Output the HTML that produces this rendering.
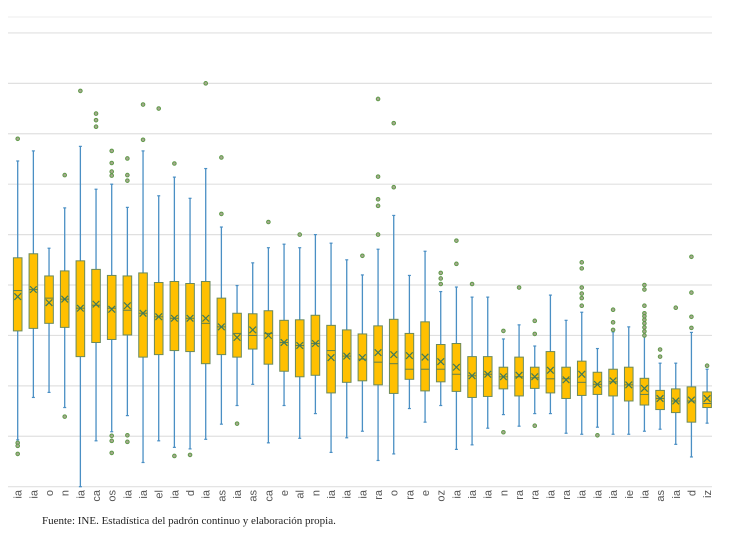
<!DOCTYPE html>
<html><head><meta charset="utf-8"><style>
body{margin:0;background:#fff;width:731px;height:542px;overflow:hidden}
svg{display:block}
</style></head><body>
<svg id="chart" width="731" height="542">
<defs><clipPath id="lblclip"><rect x="0" y="489" width="731" height="14"/></clipPath></defs>
<g id="grid"></g>
<g id="boxes"></g>
<g id="labels" clip-path="url(#lblclip)"></g>
<text x="42" y="524" font-family="Liberation Serif, serif" font-size="11" fill="#222">Fuente: INE. Estadística del padrón continuo y elaboración propia.</text>
</svg>
<script>
const categories=["ia","ia","o","n","ia","ca","os","ia","ia","el","ia","d","ia","as","ia","as","ca","e","al","n","ia","ia","ia","ra","o","ra","e","oz","ia","ia","ia","n","ra","ra","ia","ra","ia","ia","ia","ie","ia","as","ia","d","iz"];
const whiskerLow=[0.93,1.77,1.87,1.57,0,0.91,1.09,1.41,0.48,0.91,0.78,0.75,0.94,1.24,1.61,2.03,0.87,1.61,0.96,1.45,0.68,0.97,1.10,0.52,0.65,1.55,1.28,1.61,0.74,0.83,1.16,1.43,1.20,1.45,1.45,1.06,1.04,1.18,1.04,1.04,1.10,1.14,0.84,0.59,1.26];
const q1=[3.09,3.14,3.24,3.16,2.58,2.86,2.92,3.01,2.57,2.62,2.70,2.68,2.44,2.62,2.57,2.73,2.43,2.29,2.18,2.21,1.86,2.07,2.10,2.02,1.85,2.13,1.90,2.08,1.89,1.77,1.79,1.94,1.80,1.95,1.86,1.75,1.81,1.83,1.80,1.70,1.62,1.53,1.47,1.28,1.57];
const median=[3.89,3.91,3.74,3.72,3.54,3.60,3.54,3.50,3.44,3.37,3.34,3.34,3.24,3.17,3.04,3.00,3.04,2.86,2.80,2.84,2.70,2.59,2.53,2.47,2.44,2.33,2.33,2.33,2.23,2.20,2.23,2.18,2.18,2.16,2.14,2.14,2.07,2.03,2.08,2.02,1.83,1.75,1.70,1.70,1.65];
const q3=[4.54,4.62,4.18,4.28,4.48,4.31,4.19,4.18,4.24,4.05,4.07,4.03,4.07,3.74,3.44,3.43,3.49,3.30,3.31,3.40,3.20,3.11,3.03,3.19,3.32,3.04,3.27,2.82,2.84,2.58,2.58,2.37,2.57,2.37,2.68,2.37,2.49,2.27,2.33,2.37,2.15,1.91,1.94,1.98,1.88];
const whiskerHigh=[6.46,6.66,4.73,5.53,6.75,5.90,6.00,5.54,6.66,5.77,6.14,5.72,6.31,5.15,3.99,4.44,4.74,4.81,4.74,5.00,4.83,4.50,4.20,4.71,5.38,4.19,4.67,3.87,3.96,3.76,3.76,2.93,3.21,2.79,3.80,3.30,3.46,2.74,3.07,3.17,3.46,2.45,2.45,3.06,2.33];
const means=[3.77,3.91,3.65,3.72,3.54,3.62,3.52,3.59,3.44,3.37,3.34,3.34,3.34,3.17,2.96,3.11,3.00,2.86,2.80,2.84,2.56,2.59,2.56,2.66,2.62,2.60,2.57,2.48,2.37,2.20,2.23,2.18,2.21,2.18,2.31,2.12,2.23,2.03,2.10,2.02,1.95,1.75,1.70,1.72,1.75];
const outliers=[[6.90,0.87,0.81,0.65],[],[],[6.18,1.39],[7.85],[7.40,7.27,7.14],[6.66,6.42,6.25,6.17,1.01,0.91,0.67],[6.51,6.18,6.07,1.02,0.89],[7.58,6.88],[7.50],[6.41,0.61],[0.63],[8.0],[6.53,5.41],[1.25],[],[5.25],[],[5.00],[],[],[],[4.58],[7.69,6.15,5.70,5.57,5.00],[7.21,5.94],[],[],[4.24,4.13,4.02],[4.88,4.42],[4.02],[],[3.09,1.08],[3.95],[3.29,3.03,1.21],[],[],[4.45,4.33,3.95,3.83,3.74,3.59],[1.02],[3.51,3.26,3.11],[],[4.00,3.91,3.59,3.44,3.38,3.31,3.24,3.16,3.08,3.00],[2.72,2.58],[3.55],[4.56,3.85,3.37,3.15],[2.40]];
const gridTicks=[0,1,2,3,4,5,6,7,8,9];

const NS="http://www.w3.org/2000/svg";
const X0=17.7, DX=15.668, Y0=486.7, DY=50.42;
function xPos(i){return X0+i*DX;}
function yPos(v){return Y0-v*DY;}
function mk(tag,attrs,parent){const e=document.createElementNS(NS,tag);for(const k in attrs)e.setAttribute(k,attrs[k]);parent.appendChild(e);return e;}

const grid=document.getElementById('grid');
gridTicks.forEach(t=>{
  const l=mk('line',{x1:8,x2:712,y1:yPos(t),y2:yPos(t),stroke:'#e0e0e0','stroke-width':1.2},grid);
  
  
});
const tl=mk('line',{x1:8,x2:712,y1:17,y2:17,stroke:'#ececec','stroke-width':1},grid);



const boxes=document.getElementById('boxes');
const labels=document.getElementById('labels');
const W=8.6;
categories.forEach((c,i)=>{
  const x=xPos(i);
  const g=mk('g',{},boxes);
  
  
  mk('line',{x1:x,x2:x,y1:yPos(whiskerHigh[i]),y2:yPos(q3[i]),stroke:'#4a8fc4','stroke-width':1.3},g);
  mk('line',{x1:x,x2:x,y1:yPos(q1[i]),y2:yPos(whiskerLow[i]),stroke:'#4a8fc4','stroke-width':1.3},g);
  mk('line',{x1:x-1.5,x2:x+1.5,y1:yPos(whiskerHigh[i]),y2:yPos(whiskerHigh[i]),stroke:'#4a8fc4','stroke-width':1.2},g);
  mk('line',{x1:x-1.5,x2:x+1.5,y1:yPos(whiskerLow[i]),y2:yPos(whiskerLow[i]),stroke:'#4a8fc4','stroke-width':1.2},g);
  mk('rect',{x:x-W/2,y:yPos(q3[i]),width:W,height:yPos(q1[i])-yPos(q3[i]),fill:'#ffc000',stroke:'#6b8a5c','stroke-width':1},g);
  mk('line',{x1:x-W/2,x2:x+W/2,y1:yPos(median[i]),y2:yPos(median[i]),stroke:'#5e7f50','stroke-width':1},g);
  const my=yPos(means[i]);
  mk('path',{d:`M${x-3.3},${my-3.3}L${x+3.3},${my+3.3}M${x-3.3},${my+3.3}L${x+3.3},${my-3.3}`,stroke:'#3f7a5a','stroke-width':1.2,fill:'none'},g);
  outliers[i].forEach(v=>{
    const o=mk('circle',{cx:x,cy:yPos(v),r:1.8,fill:'#a8a890',stroke:'#5e9a48','stroke-width':1},g);
    
    
  });
  const t=mk('text',{x:0,y:0,transform:`translate(${x+4},490) rotate(-90)`,'text-anchor':'end','font-family':'Liberation Sans, sans-serif','font-size':11,fill:'#555'},labels);
  t.textContent=c;
  
  
});
</script>
</body></html>
